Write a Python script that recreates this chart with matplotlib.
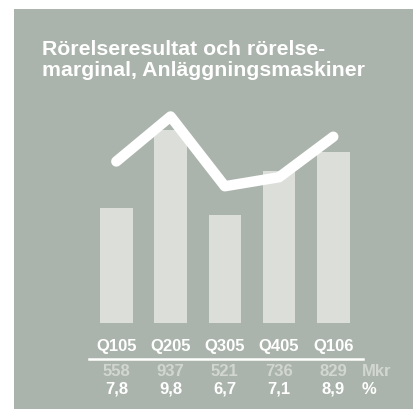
import matplotlib
matplotlib.use("Agg")
import matplotlib.pyplot as plt
from matplotlib.patches import Rectangle
from matplotlib.lines import Line2D

plt.rcParams['font.family'] = ['Liberation Sans', 'DejaVu Sans']

quarters = ["Q105", "Q205", "Q305", "Q405", "Q106"]
result_mkr = [558, 937, 521, 736, 829]
margin_pct = [7.8, 9.8, 6.7, 7.1, 8.9]
margin_labels = ["7,8", "9,8", "6,7", "7,1", "8,9"]

W, H = 413, 409
bg = "#abb4ac"
bar_col = "#dcdfd9"
pale = "#d2d6d1"

fig = plt.figure(figsize=(W / 100, H / 100), dpi=100)
fig.patches.append(Rectangle((14 / W, 0), 1 - 14 / W, (H - 9) / H,
                             transform=fig.transFigure, facecolor=bg,
                             edgecolor="none", zorder=-1))

def fx(px):
    return px / W

def fy(py):
    return (H - py) / H

ax = fig.add_axes([fx(89.2), fy(322.7), fx(360.4) - fx(89.2), fy(100) - fy(322.7)])
ax.set_facecolor("none")
x = range(len(quarters))
ax.bar(x, result_mkr, width=0.6, color=bar_col)
ax.set_xlim(-0.5, 4.5)
ax.set_ylim(0, 1081)
ax.axis("off")

ax2 = ax.twinx()
ax2.plot(x, margin_pct, color="white", lw=7.5, solid_capstyle="round",
         solid_joinstyle="round")
ax2.set_ylim(0.64, 10.53)
ax2.axis("off")

fig.text(fx(42), fy(55), "Rörelseresultat och rörelse-", color="white",
         fontsize=15.3, fontweight="bold", va="baseline")
fig.text(fx(42), fy(76), "marginal, Anläggningsmaskiner", color="white",
         fontsize=15.3, fontweight="bold", va="baseline")

centers = [ax.transData.transform((i, 0))[0] / fig.dpi / fig.get_figwidth() for i in x]
for c, q, v, m in zip(centers, quarters, result_mkr, margin_labels):
    fig.text(c, fy(351.5), q, color="white", fontsize=12, fontweight="bold",
             ha="center", va="baseline")
    fig.text(c, fy(375.5), str(v), color=pale, fontsize=12, fontweight="bold",
             ha="center", va="baseline")
    fig.text(c, fy(394), m, color="white", fontsize=12, fontweight="bold",
             ha="center", va="baseline")

fig.text(fx(362), fy(375.5), "Mkr", color=pale, fontsize=12, fontweight="bold",
         va="baseline")
fig.text(fx(362), fy(394), "%", color="white", fontsize=12, fontweight="bold",
         va="baseline")

fig.add_artist(Line2D([fx(89), fx(363)], [fy(359), fy(359)], color="white",
                      lw=1.8, transform=fig.transFigure))

fig.savefig("out.png", dpi=100)
